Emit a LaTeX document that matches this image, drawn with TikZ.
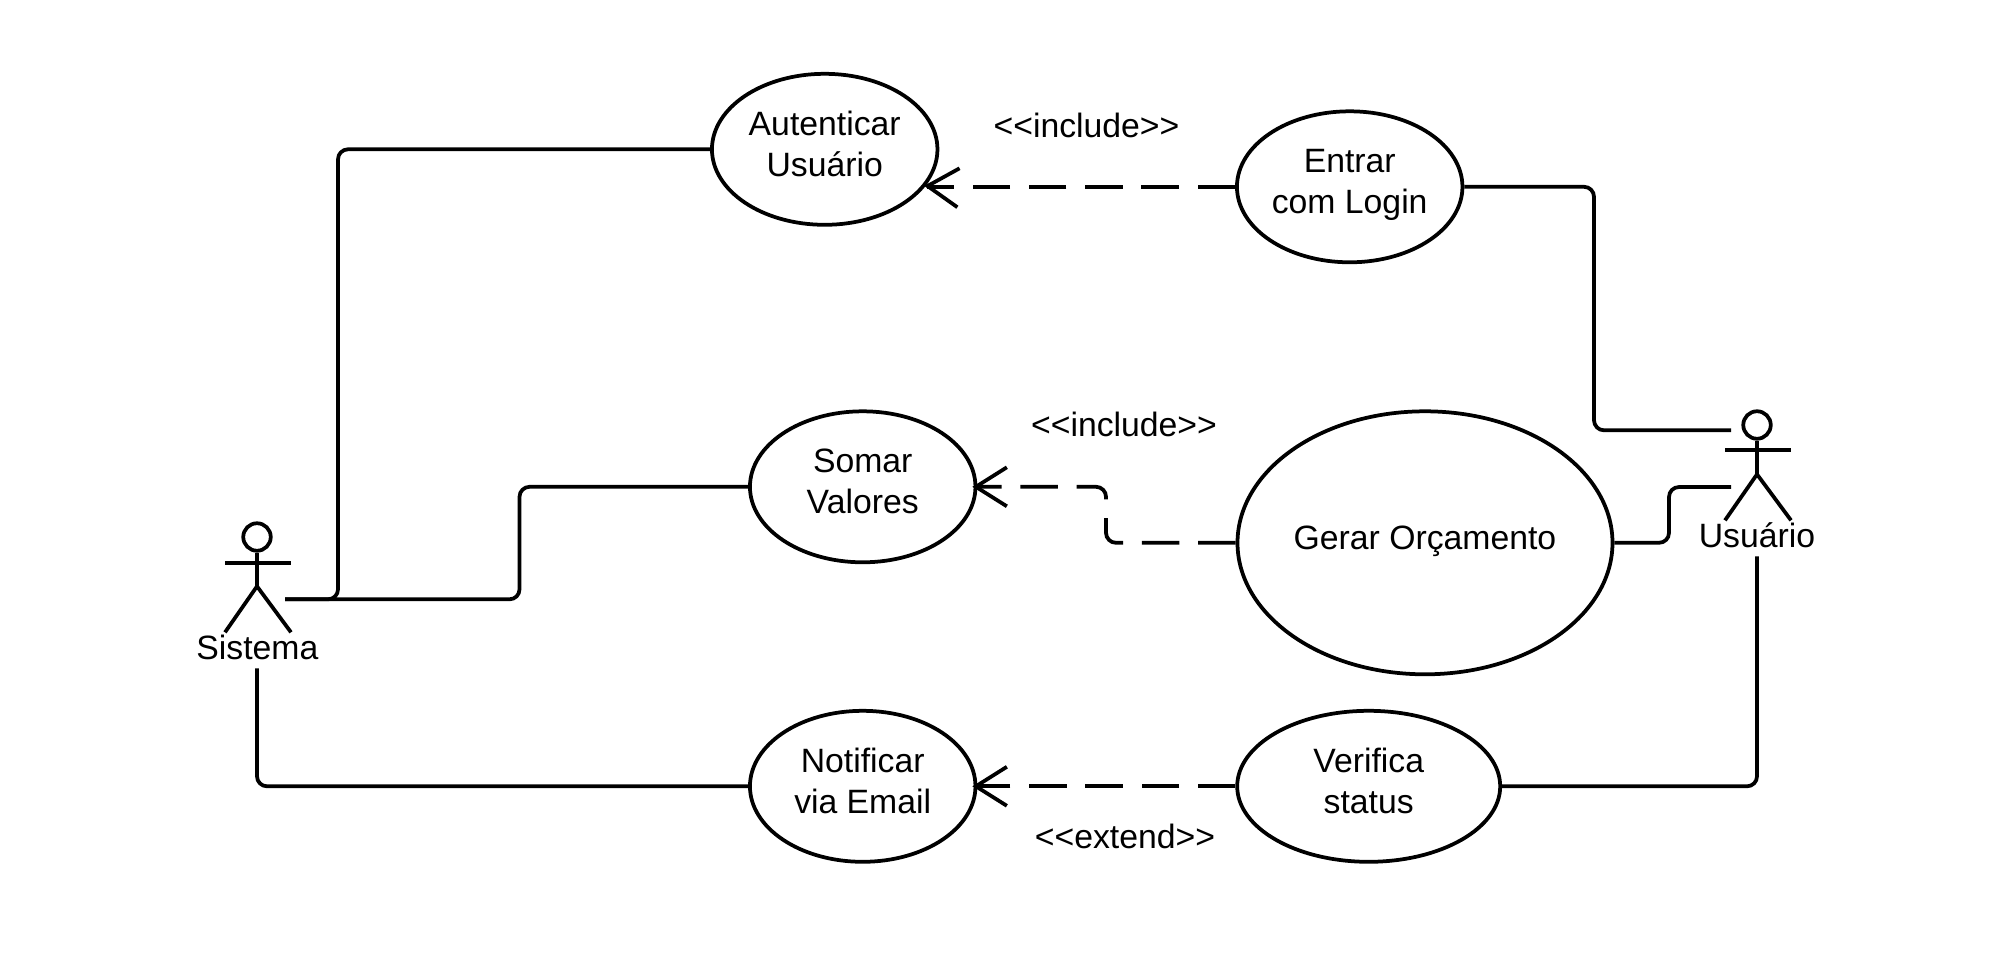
\documentclass[tikz,border=0pt]{standalone}
\usepackage{fontspec}
\setmainfont{Liberation Sans}
\usetikzlibrary{shapes.geometric,arrows.meta,calc}
\newcommand{\uct}[1]{\begin{tabular}{@{}c@{}}#1\rule[-15.4pt]{0pt}{1pt}\end{tabular}}
\tikzset{
  base/.style={line width=3.75pt,draw=black},
  usecase/.style={base,ellipse,inner sep=0pt,minimum width=#1},
  actorpart/.style={base,line cap=butt},
  conn/.style={base,rounded corners=10pt},
  barb/.style={-{Straight Barb[length=31pt,width=39pt]},shorten >=-3pt},
  dep/.style={conn,dash pattern=on 37.5pt off 18.75pt,-{Straight Barb[length=31pt,width=39pt]},shorten >=-5pt},
  txt/.style={inner sep=0pt,font=\fontsize{33.75}{41}\selectfont},
}
\begin{document}
\begin{tikzpicture}[x=1pt,y=-1pt,font=\fontsize{33.75}{41}\selectfont]
\useasboundingbox (0,0.7) rectangle (2016,975.7);
\fill[white] (0,0.7) rectangle (2016,975.7);

% use cases
\node[usecase=225.5pt,minimum height=151pt] (aut) at (824.7,150) {\uct{Autenticar\\Usuário}};
\node[usecase=225.5pt,minimum height=151pt] (ent) at (1349.7,187.5) {\uct{Entrar\\com Login}};
\node[usecase=225.5pt,minimum height=151pt] (som) at (862.7,487.5) {\uct{Somar\\Valores}};
\node[usecase=375pt,minimum height=263pt] (ger) at (1425,543.5) {\uct{Gerar Orçamento}};
\node[usecase=225.5pt,minimum height=151pt] (not) at (862.7,787) {\uct{Notificar\\via Email}};
\node[usecase=263pt,minimum height=151pt] (ver) at (1368.7,787) {\uct{Verifica\\status}};

% actor Sistema
\node[base,circle,inner sep=0pt,minimum size=27.5pt] (shead) at (257,537.7) {};
\coordinate (sarmL) at (225,564);
\coordinate (sarmR) at (291,564);
\coordinate (ship) at (257,587);
\coordinate (slegL) at (225,633);
\coordinate (slegR) at (291,633);
\draw[actorpart] (shead.south) -- (ship);
\draw[actorpart] (sarmL) -- (sarmR);
\draw[actorpart] (slegL) -- (ship) -- (slegR);
\node[txt,anchor=base] (stext) at (257.4,660) {Sistema};

% actor Usuario
\node[base,circle,inner sep=0pt,minimum size=27.5pt] (uhead) at (1757,425.7) {};
\coordinate (uarmL) at (1725,451);
\coordinate (uarmR) at (1791,451);
\coordinate (uhip) at (1757,475);
\coordinate (ulegL) at (1725,521);
\coordinate (ulegR) at (1791,521);
\draw[actorpart] (uhead.south) -- (uhip);
\draw[actorpart] (uarmL) -- (uarmR);
\draw[actorpart] (ulegL) -- (uhip) -- (ulegR);
\node[txt,anchor=base] (utext) at (1757,547.7) {Usuário};

% free ends of connectors
\coordinate (sright) at (285,600);
\coordinate (sbottom) at (257,669);
\coordinate (utop) at (1731,431);
\coordinate (umid) at (1731,487.7);
\coordinate (ubottom) at (1757,557);
\coordinate (autTip) at (927,186.7);
\coordinate (autBack) at (959,188.5);

% associations
\draw[conn] (sright) -| (338,150) -- (aut.west);
\draw[conn] (sright) -| (519.5,487.5) -- (som.west);
\draw[conn] (sbottom) |- (not.west);
\draw[conn] (ent.east) -| (1594,431) -- (utop);
\draw[conn] (ger.east) -| (1669,487.7) -- (umid);
\draw[conn] (ver.east) -| (ubottom);

% dependencies
\draw[conn,dash pattern=on 37.5pt off 18.75pt] (ent.west) -- (autTip |- ent.west);
\draw[base,barb,shorten <=28pt] (autBack) -- (autTip);
\draw[dep] (ger.west) -| (1106,487.5) -- (som.east);
\draw[dep] (ver.west) -- (not.east);

% stereotypes
\node[txt,anchor=base] (l1) at (1086.5,137.9) {<{}<include>{}>};
\node[txt,anchor=base] (l2) at (1124,437.4) {<{}<include>{}>};
\node[txt,anchor=base] (l3) at (1125,849) {<{}<extend>{}>};
\end{tikzpicture}
\end{document}
